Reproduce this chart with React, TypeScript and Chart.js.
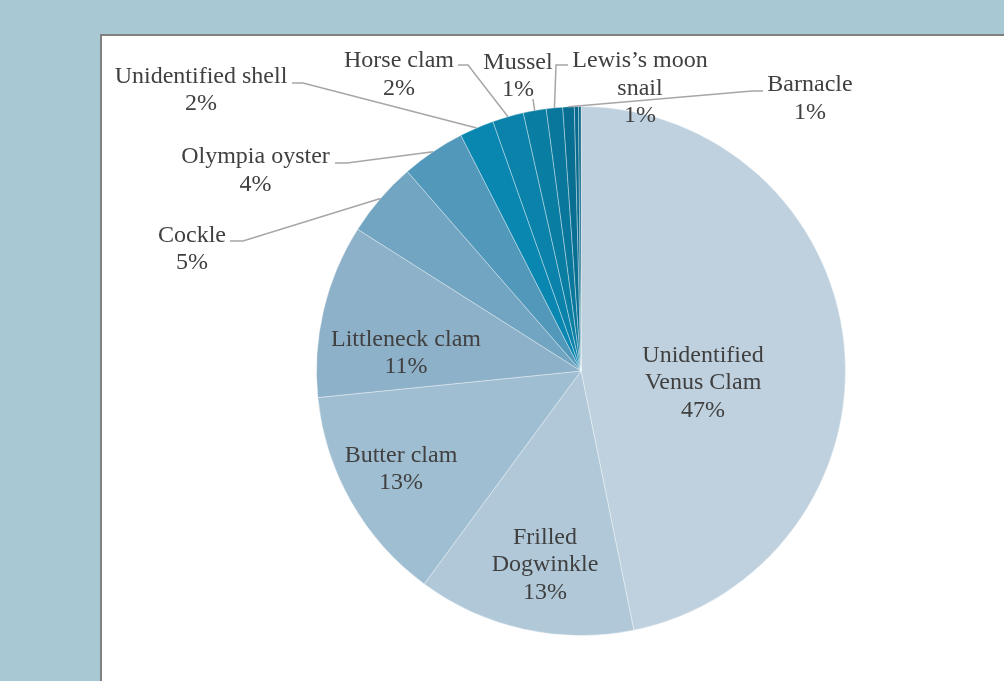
import React, { useEffect, useRef } from "react";
import { Chart, registerables } from "chart.js";

Chart.register(...registerables);

const categories = [
  "Unidentified\nVenus Clam",
  "Frilled\nDogwinkle",
  "Butter clam",
  "Littleneck clam",
  "Cockle",
  "Olympia oyster",
  "Unidentified shell",
  "Horse clam",
  "Mussel",
  "Lewis’s moon\nsnail",
  "Barnacle",
  "Other shell A",
  "Other shell B",
];

const values = [46.8, 13.3, 13.3, 10.6, 4.6, 3.9, 2.1, 1.9, 1.4, 1.0, 0.7, 0.25, 0.15];

const percentLabels = ["47%", "13%", "13%", "11%", "5%", "4%", "2%", "2%", "1%", "1%", "1%", "", ""];

const sliceColors = [
  "#bfd1de",
  "#b0c8d8",
  "#a0bed2",
  "#8db1c8",
  "#72a5c1",
  "#5298ba",
  "#0a87b0",
  "#0a82a9",
  "#0a7da3",
  "#09779b",
  "#086f92",
  "#076a8c",
  "#066585",
];

// label layout, relative to pie centre (px); leader points are elbows before the arc edge
type LabelLayout = { dx: number; dy: number; leader?: number[][] } | null;
const labelLayout: LabelLayout[] = [
  { dx: 122, dy: 12 },
  { dx: -36, dy: 194 },
  { dx: -180, dy: 98 },
  { dx: -175, dy: -18 },
  { dx: -389, dy: -122, leader: [[-351, -130], [-338, -130]] },
  { dx: -325.5, dy: -200.5, leader: [[-246, -208], [-234, -208]] },
  { dx: -380, dy: -281, leader: [[-289, -288], [-278, -288]] },
  { dx: -182, dy: -296.5, leader: [[-123, -306], [-113, -306]] },
  { dx: -63, dy: -295, leader: [[-48, -272]] },
  { dx: 59, dy: -282.5, leader: [[-13, -306], [-25, -306]] },
  { dx: 229, dy: -272.5, leader: [[182, -280], [171, -280]] },
  null,
  null,
];

const labelPlugin = {
  id: "sliceLabels",
  afterDatasetsDraw(chart: any) {
    const meta = chart.getDatasetMeta(0);
    const ctx = chart.ctx;
    ctx.save();
    meta.data.forEach((arc: any, i: number) => {
      const lay = labelLayout[i];
      if (!lay) return;
      const { x, y, startAngle, endAngle, outerRadius } = arc.getProps(
        ["x", "y", "startAngle", "endAngle", "outerRadius"],
        true
      );
      const mid = (startAngle + endAngle) / 2;
      if (lay.leader) {
        ctx.beginPath();
        ctx.strokeStyle = "#a6a6a6";
        ctx.lineWidth = 1.5;
        lay.leader.forEach((p, k) => {
          if (k === 0) ctx.moveTo(x + p[0], y + p[1]);
          else ctx.lineTo(x + p[0], y + p[1]);
        });
        ctx.lineTo(x + Math.cos(mid) * outerRadius, y + Math.sin(mid) * outerRadius);
        ctx.stroke();
      }
      const lines = categories[i].split("\n").concat([percentLabels[i]]);
      const lh = 27.5;
      ctx.fillStyle = "#404040";
      ctx.font = "24px 'Liberation Serif', 'Times New Roman', serif";
      ctx.textAlign = "center";
      ctx.textBaseline = "middle";
      const top = y + lay.dy - ((lines.length - 1) * lh) / 2;
      lines.forEach((t, k) => {
        ctx.fillText(t, x + lay.dx, top + k * lh);
      });
    });
    ctx.restore();
  },
};

export default function App() {
  const ref = useRef<HTMLCanvasElement>(null);
  useEffect(() => {
    if (!ref.current) return;
    const chart = new Chart(ref.current, {
      type: "pie",
      data: {
        labels: categories,
        datasets: [
          {
            data: values,
            backgroundColor: sliceColors,
            borderColor: "rgba(255,255,255,0.35)",
            borderWidth: 1,
          },
        ],
      },
      options: {
        responsive: false,
        animation: false,
        devicePixelRatio: 1,
        layout: { padding: { left: 316, right: 158, top: 105.5, bottom: 44.5 } },
        plugins: {
          legend: { display: false },
          tooltip: { enabled: false },
        },
      },
      plugins: [labelPlugin],
    });
    return () => chart.destroy();
  }, []);

  return (
    <div
      style={{
        position: "fixed",
        left: 0,
        top: 0,
        width: 1004,
        height: 681,
        background: "#a8c9d4",
        overflow: "hidden",
      }}
    >
      <div
        style={{
          position: "absolute",
          left: 100,
          top: 34,
          width: 940,
          height: 700,
          background: "#ffffff",
          borderTop: "2px solid #808080",
          borderLeft: "2px solid #808080",
        }}
      />
      <canvas
        ref={ref}
        width={1004}
        height={681}
        style={{ position: "absolute", left: 0, top: 0, width: 1004, height: 681 }}
      />
    </div>
  );
}
